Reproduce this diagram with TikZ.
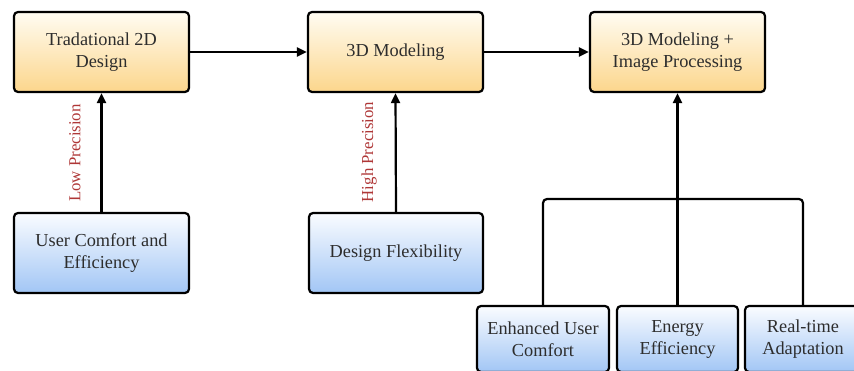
\documentclass[tikz,border=0pt]{standalone}
\usepackage{fontspec}
\setmainfont{Liberation Serif}
\usetikzlibrary{arrows.meta,shapes.geometric}
\definecolor{txt}{RGB}{45,45,45}
\definecolor{lbl}{RGB}{175,55,55}
\definecolor{otop}{RGB}{255,252,242}
\definecolor{obot}{RGB}{252,214,140}
\definecolor{btop}{RGB}{250,252,255}
\definecolor{bbot}{RGB}{162,198,245}
\tikzset{
  box/.style={draw=black, line width=2.2pt, rounded corners=4pt, align=center,
    text=txt, font=\fontsize{18.3}{22}\selectfont, inner sep=0pt},
  obox/.style={box, top color=otop, bottom color=obot, minimum width=175pt, minimum height=80pt},
  bbox/.style={box, top color=btop, bottom color=bbot},
  conn/.style={line width=2.2pt, -{Triangle[length=10pt,width=9pt]}},
  line/.style={line width=2.2pt, rounded corners=4pt},
  lab/.style={rotate=90, text=lbl, font=\fontsize{16.8}{20}\selectfont, inner sep=0pt}
}
\begin{document}
\begin{tikzpicture}[x=1pt,y=-1pt]
\useasboundingbox (0,0) rectangle (854,371);
\clip (0,0) rectangle (854,371);
\node[obox] (t1) at (101.5,52) {Tradational 2D\\Design};
\node[obox] (t2) at (395.5,52) {3D Modeling};
\node[obox] (t3) at (677.5,52) {3D Modeling +\\Image Processing};
\node[bbox, minimum width=175pt, minimum height=80pt] (b1) at (101.5,253) {User Comfort and\\Efficiency};
\node[bbox, minimum width=174pt, minimum height=80pt] (b2) at (396,253) {Design Flexibility};
\node[bbox, minimum width=132pt, minimum height=66pt] (c1) at (543,339) {Enhanced User\\Comfort};
\node[bbox, minimum width=121pt, minimum height=66pt] (c2) at (677.5,339) {Energy\\Efficiency};
\node[bbox, minimum width=116pt, minimum height=66pt] (c3) at (803,339) {Real-time\\Adaptation};
\coordinate (j) at (677.5,199);
\draw[conn] (t1.east) -- (t2.west);
\draw[conn] (t2.east) -- (t3.west);
\draw[conn] (b1.north) -- (t1.south);
\draw[conn] (b2.north) -- (t2.south);
\draw[conn] (c2.north) -- (t3.south);
\draw[line] (c1.north) |- (j) -| (c3.north);
\node[lab] (l1) at (75,153) {Low Precision};
\node[lab] (l2) at (369,152) {High Precision};
\end{tikzpicture}
\end{document}
